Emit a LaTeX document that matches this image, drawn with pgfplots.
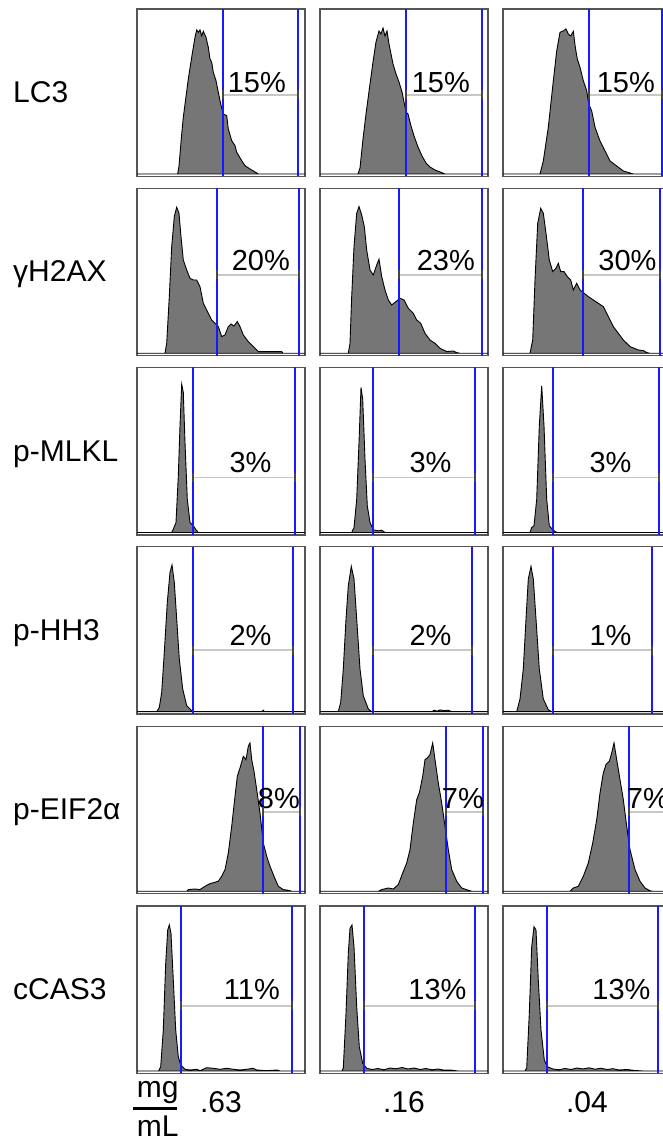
\documentclass[border=0pt]{standalone}
\usepackage{fontspec}
\setmainfont{Liberation Sans}
\usepackage{pgfplots}
\pgfplotsset{compat=1.18}
\definecolor{histfill}{RGB}{118,118,118}
\definecolor{frame}{RGB}{85,85,85}
\definecolor{gbar}{RGB}{200,200,200}
\definecolor{gend}{RGB}{70,70,70}
\definecolor{gateblue}{RGB}{25,25,255}
\newcommand{\lbl}{\fontsize{30}{36}\selectfont}
\newcommand{\pct}{\fontsize{29}{34}\selectfont}
\pgfplotsset{panel/.style={anchor=south west, width=168pt, height=167.5pt, scale only axis,
  xmin=0, xmax=168, ymin=-2.5, ymax=165, xtick=\empty, ytick=\empty,
  axis line style={draw=frame, line width=1.4pt}, clip=true}}
% #1 X, #2 Y, #3 data, #4 left gate, #5 right gate, #6 bar height, #7 text right, #8 text base, #9 text
\newcommand{\panel}[9]{%
\begin{axis}[panel, at={(#1pt,#2pt)}]
\addplot[fill=histfill, draw=black, line width=0.9pt] coordinates {#3} \closedcycle;
\addplot[gateblue, line width=2pt] coordinates {(#4,-2.5) (#4,165)};
\addplot[gateblue, line width=2pt] coordinates {(#5,-2.5) (#5,165)};
\addplot[gbar, line width=1.8pt, mark=|, mark size=4.5pt, mark options={gend, line width=2.2pt}] coordinates {(#4,#6) (#5,#6)};
\node[anchor=base east, inner sep=0pt, font=\pct] at (axis cs:#7,#8) {#9};
\end{axis}}
\begin{document}
\begin{tikzpicture}
\useasboundingbox (0,0) rectangle (663pt,1139pt);
\clip (0,0) rectangle (663pt,1139pt);
% ---------- Row 1: LC3
\panel{137}{962.5}{(0,0)(40.7,0)(42,8)(44.7,40)(46.3,56.7)(51.3,95)(54.7,116.7)(58,136.7)(59.7,144)(61.3,141.7)(63,144)(64.7,138)(66.3,142.7)(69,136.7)(71.3,126.7)(73,115)(74.7,111.7)(76.3,101.7)(79,93.3)(81.3,81.7)(83.7,70)(86.3,60)(89.7,58.3)(91.3,45)(94.7,33.3)(98,28.3)(99.7,21.7)(104.7,13.3)(108,8.3)(113,5)(119.7,1)(121.3,0)(168,0)}{86.3}{160.7}{79.3}{149}{81.7}{15\%}
\panel{320}{962.5}{(0,0)(38,0)(40,6)(43,35)(46,60)(50,90)(53,112)(56,132)(59,143)(61,140)(63,146)(65,138)(67,143)(69,130)(71,120)(73,110)(76,100)(79,92)(82,82)(84,72)(86,62)(88,60)(91,48)(94,38)(98,27)(102,18)(106,11)(110,7)(115,4)(120,2)(125,0)(168,0)}{86}{162}{79.3}{150}{81.7}{15\%}
\panel{503}{962.5}{(0,0)(37,0)(40.3,13)(45.3,46.7)(50.3,93)(53.7,123)(57,141.7)(60.3,143)(63,145)(65.3,140)(67.7,138)(70.3,142.7)(72.3,126.7)(74.3,115)(77,106.7)(80.3,93.3)(83.7,83.3)(85.7,70)(88.7,63)(92,46.7)(97,33)(102,23)(107,13)(113.7,8)(120.3,3)(130.3,0)(168,0)}{86}{159.3}{79.3}{152}{81.7}{15\%}
% ---------- Row 2: gH2AX
\panel{137}{783.2}{(0,0)(28,0)(29.7,10)(32.3,56.7)(34.7,106.7)(37.3,136.7)(39.7,146)(42,140)(44,116.7)(46.3,93.3)(49.7,83.3)(53,75)(56.3,73.3)(59.7,73.3)(63,66.7)(66.3,50)(71.3,40)(74.7,33.3)(78,30)(81.3,26.7)(84.7,16.7)(88,18.3)(91.3,26.7)(94,29.3)(97,27.3)(100.3,31.7)(103,26.7)(106.3,18.3)(111.3,11.7)(116.3,6.7)(121.3,1.7)(144.7,1.7)(146,0)(168,0)}{79.7}{162}{78.3}{153}{82.6}{20\%}
\panel{320}{783.2}{(0,0)(28.3,0)(30,10)(31.7,56.7)(34,106.7)(36.7,140)(39,146.7)(41.7,138.3)(44.3,126.7)(46.7,103.3)(50,83.3)(53.3,78.3)(56.7,88.3)(59,94)(61.7,76.7)(65,63.3)(68.3,53.3)(71.7,48.3)(76,51.7)(80,55)(84,53.3)(88.3,45)(93.3,40)(96.7,33.3)(100.7,30)(105,20)(110,13.3)(115,10)(120,5)(126.7,1.7)(133.3,2.3)(136.7,0.7)(140,0)(168,0)}{79.3}{161.7}{78.3}{155}{82.6}{23\%}
\panel{503}{783.2}{(0,0)(27,0)(29.7,13.3)(32,73.3)(34.7,130)(37.7,145)(40.3,140)(43,120)(46.3,93.3)(49.7,81.7)(53,85)(55.3,90)(57.7,81.7)(61,81.7)(64.3,76.7)(67.7,73.3)(70.3,63.3)(73.7,70)(77,63.3)(80.3,60.7)(85.3,56.7)(90.3,53.3)(95.3,50)(100.3,46.7)(105.3,36.7)(110.3,26.7)(115.3,20)(120.3,13.3)(127,6.7)(135.3,3.3)(140.3,2.7)(143.7,0.7)(147,0)(168,0)}{79.7}{157}{78.3}{153.7}{82.6}{30\%}
% ---------- Row 3: p-MLKL
\panel{137}{604}{(0,0)(34.7,0)(36.3,3.3)(39,10)(41.3,56.7)(43,106.7)(44.7,148.3)(46.3,140)(48,90)(50.3,33.3)(53,10)(56.3,6.7)(59.7,1.7)(61.3,0)(168,0)}{56.3}{158.3}{55}{134.7}{60}{3\%}
\panel{320}{604}{(0,0)(31.7,0)(34,5)(36.7,33.3)(39,90)(41,145)(42.7,133.3)(45,73.3)(47.3,26.7)(50,10)(53.3,2.7)(58.3,1.7)(61.7,2.3)(65,0)(168,0)}{53.3}{155}{55}{131.7}{60}{3\%}
\panel{503}{604}{(0,0)(27,0)(28.7,5)(31,6.7)(33.7,33.3)(36.3,106.7)(38.7,146.7)(41,106.7)(43.7,33.3)(46.3,6.7)(49.7,2.7)(53.7,0)(168,0)}{49.7}{156}{55}{128.7}{60}{3\%}
% ---------- Row 4: p-HH3
\panel{137}{424.8}{(0,0)(19.7,0)(22.3,4.3)(24.7,19.3)(27.3,59.3)(30.3,109.3)(33,139.3)(35,146.7)(37.3,129.3)(39.7,92.7)(42.3,52.7)(45.7,22.7)(49.7,6)(54.7,1)(58,0)(125,0)(126.3,1.5)(127.5,0)(168,0)}{56.3}{155.7}{61.5}{134.7}{66.5}{2\%}
\panel{320}{424.8}{(0,0)(18.3,0)(20.7,9.3)(23.3,42.7)(26,92.7)(28.3,126)(31.3,145.3)(34,132.7)(36.7,92.7)(40,42.7)(43.3,16)(48.3,2.7)(51.7,0)(112,0)(114,1.5)(117,0.5)(120,1.8)(124,1)(128,1.5)(132,0)(168,0)}{53.3}{152.3}{61.5}{131.7}{66.5}{2\%}
\panel{503}{424.8}{(0,0)(13.7,0)(17,12.7)(20.3,42.7)(23,92.7)(25.3,132.7)(28,145.3)(30.3,132.7)(33,92.7)(36.3,42.7)(40.3,12.7)(45.3,2)(48.7,0)(168,0)}{49.7}{148.7}{61.5}{128.7}{66.5}{1\%}
% ---------- Row 5: p-EIF2a
\panel{137}{245.2}{(0,0)(49.7,0)(51.3,1.7)(58,2.3)(63,1.7)(68,5)(73,7.7)(78,9)(81.3,10)(84.7,15)(88,21.7)(91.3,38.3)(94.7,65)(98,95)(100.3,115)(103,123.3)(106.3,135)(109,131.7)(111.3,145)(113,148.3)(114.7,131.7)(117,120)(119.7,101.7)(123,78.3)(126.3,48.3)(129.7,35)(133,25)(137,15)(141.3,5)(146.3,1.7)(151.3,1)(155,0)(168,0)}{125.7}{163}{79.3}{163}{82.3}{8\%}
\panel{320}{245.2}{(0,0)(58.3,0)(61.7,1.7)(68.3,3.3)(73.3,2.3)(78.3,6.7)(82.7,18.3)(86.7,28.3)(90,41.7)(93.3,68.3)(96.7,91.7)(99.3,98.3)(102.7,115)(105,131.7)(107.3,133.3)(110,136.7)(112.7,148.3)(115,131.7)(118.3,108.3)(121.7,88.3)(125,65)(128.3,41.7)(131.7,21.7)(136.7,10)(141.7,3.3)(148.3,1)(152,0)(168,0)}{125.7}{163}{79.3}{164}{82.3}{7\%}
\panel{503}{245.2}{(0,0)(67,0)(70.3,3.3)(75.3,5)(80.3,15)(85.3,28.3)(89.7,48.3)(93.7,71.7)(97,98.3)(100.3,118.3)(103,126.7)(106.3,130)(108.7,138.3)(111,148.3)(113.7,131.7)(117,111.7)(120.3,91.7)(123.7,65)(127,41.7)(132,21.7)(137,10)(142,3.3)(147,0.5)(150,0)(168,0)}{126}{163}{79.3}{166}{82.3}{7\%}
% ---------- Row 6: cCAS3
\panel{137}{65.5}{(0,0)(21.5,0)(23.7,4.3)(26.3,41)(28.7,107.7)(30.7,141)(32.3,146)(34,137.7)(36.3,91)(38.7,41)(41.3,14.3)(43.7,6)(48,1.7)(53,1)(59.7,1.7)(63,0.3)(69.7,3.3)(76.3,2.7)(83,1.7)(89.7,2.7)(96.3,1.7)(103,1)(109.7,1.7)(116.3,2.7)(119.7,1)(129.7,0.3)(139.7,1)(143,0)(168,0)}{43.7}{155.3}{65}{143}{71.5}{11\%}
\panel{320}{65.5}{(0,0)(22,0)(23.3,3)(26,57.7)(28.3,117.7)(30,142.7)(32,146)(34,124.3)(36.7,64.3)(39.3,24.3)(42.7,7.7)(46.7,2.7)(52,1.5)(58,2.5)(64,1.2)(70,3)(76,2.2)(82,3.5)(88,2)(94,3)(100,1.5)(106,2.5)(112,1.2)(118,2)(124,0.8)(130,1)(138,0)(168,0)}{44}{155}{65}{146.7}{71.5}{13\%}
\panel{503}{65.5}{(0,0)(22,0)(23.7,3)(26.3,57.7)(28.7,124.3)(31,144.3)(33,141)(35.3,91)(38,41)(41.3,11)(44.3,4.3)(50,2)(56,1.2)(62,2.5)(68,1.5)(74,3)(80,2)(86,3.2)(92,1.8)(98,2.8)(104,1.5)(110,2.3)(116,1)(124,1.5)(132,0.5)(140,0)(168,0)}{43.7}{155.3}{65}{147.7}{71.5}{13\%}
% ---------- Row labels
\node[anchor=base west, inner sep=0pt, font=\lbl] at (13pt,1036.25pt) {LC3};
\node[anchor=base west, inner sep=0pt, font=\lbl] at (13pt,857pt) {γH2AX};
\node[anchor=base west, inner sep=0pt, font=\lbl] at (13pt,677.75pt) {p-MLKL};
\node[anchor=base west, inner sep=0pt, font=\lbl] at (13pt,498.55pt) {p-HH3};
\node[anchor=base west, inner sep=0pt, font=\lbl] at (13pt,319pt) {p-EIF2α};
\node[anchor=base west, inner sep=0pt, font=\lbl] at (13pt,139.25pt) {cCAS3};
% ---------- Bottom labels
\node[anchor=base west, inner sep=0pt, font=\lbl] at (136.7pt,41pt) {mg};
\draw[line width=3.5pt] (133pt,30.7pt) -- (177pt,30.7pt);
\node[anchor=base west, inner sep=0pt, font=\lbl] at (136.7pt,2.6pt) {mL};
\node[anchor=base, inner sep=0pt, font=\lbl] at (221pt,26.3pt) {.63};
\node[anchor=base, inner sep=0pt, font=\lbl] at (404pt,26.3pt) {.16};
\node[anchor=base, inner sep=0pt, font=\lbl] at (587pt,26.3pt) {.04};
\end{tikzpicture}
\end{document}
